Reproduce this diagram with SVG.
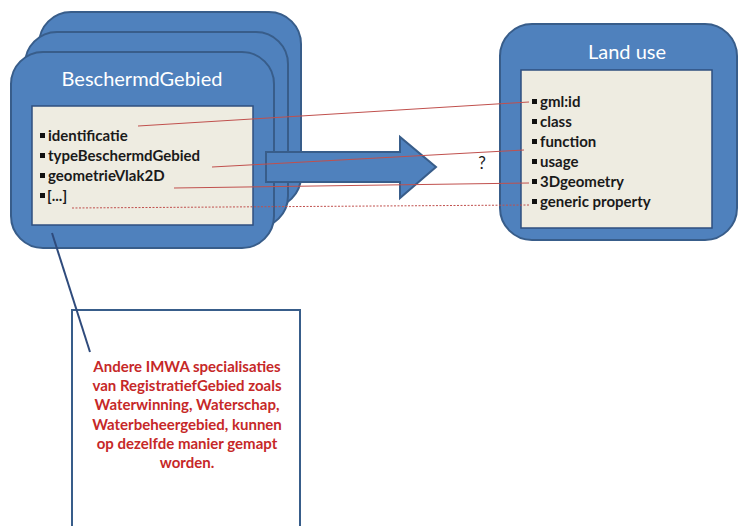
<svg xmlns="http://www.w3.org/2000/svg" width="741" height="526" viewBox="0 0 741 526">
<style>
.card{fill:#4F81BD;stroke:#385D8A;stroke-width:2}
.box{fill:#EEECE1;stroke:#2F4F7F;stroke-width:1.5}
.title{font-family:Lato,"Liberation Sans",sans-serif;font-size:20px;fill:#FFFFFF;text-anchor:middle}
.item{font-family:Lato,"Liberation Sans",sans-serif;font-size:15px;font-weight:bold;fill:#1A1A1A}
.bul{fill:#111111}
.red{stroke:#C0504D;stroke-width:1;fill:none}
.dot{stroke:#C0504D;stroke-width:1;stroke-dasharray:2 1.5;fill:none}
.note{font-family:Lato,"Liberation Sans",sans-serif;font-size:15px;font-weight:bold;fill:#C62828;text-anchor:middle}
</style>
<rect width="741" height="526" fill="#FFFFFF"/>
<g id="stack-back"><rect class="card" x="39" y="12" width="262" height="196" rx="32"/></g>
<g id="stack-middle"><rect class="card" x="25" y="32" width="263" height="196" rx="32"/></g>
<g id="beschermdgebied">
<rect class="card" x="11" y="52" width="263" height="196" rx="32"/>
<text class="title" x="142" y="86">BeschermdGebied</text>
<rect class="box" x="32" y="106" width="221" height="119"/>
<rect class="bul" x="40" y="133" width="5" height="5"/><text class="item" x="48" y="141">identificatie</text>
<rect class="bul" x="40" y="153" width="5" height="5"/><text class="item" x="48" y="161">typeBeschermdGebied</text>
<rect class="bul" x="40" y="173" width="5" height="5"/><text class="item" x="48" y="181">geometrieVlak2D</text>
<rect class="bul" x="40" y="193" width="5" height="5"/><text class="item" x="47" y="201">[...]</text>
</g>
<g id="landuse">
<rect class="card" x="500" y="24" width="237" height="216" rx="32"/>
<text class="title" x="627" y="59">Land use</text>
<rect class="box" x="521" y="70" width="191" height="158"/>
<rect class="bul" x="532" y="99" width="5" height="5"/><text class="item" x="540" y="107">gml:id</text>
<rect class="bul" x="532" y="119" width="5" height="5"/><text class="item" x="540" y="127">class</text>
<rect class="bul" x="532" y="139" width="5" height="5"/><text class="item" x="540" y="147">function</text>
<rect class="bul" x="532" y="159" width="5" height="5"/><text class="item" x="540" y="167">usage</text>
<rect class="bul" x="532" y="179" width="5" height="5"/><text class="item" x="540" y="187">3Dgeometry</text>
<rect class="bul" x="532" y="199" width="5" height="5"/><text class="item" x="540" y="207">generic property</text>
</g>
<g id="note">
<path d="M72 526 V310 H300 V526" fill="#FFFFFF" stroke="#385D8A" stroke-width="2"/>
<text class="note" x="187" y="372">Andere IMWA specialisaties</text>
<text class="note" x="187" y="391">van RegistratiefGebied zoals</text>
<text class="note" x="187" y="410">Waterwinning, Waterschap,</text>
<text class="note" x="187" y="430">Waterbeheergebied, kunnen</text>
<text class="note" x="187" y="449">op dezelfde manier gemapt</text>
<text class="note" x="187" y="468">worden.</text>
</g>
<g id="connectors">
<polygon points="266,152 400,152 400,137 436,167 400,198 400,182 266,182" fill="#4F81BD" stroke="#385D8A" stroke-width="2"/>
<line x1="52" y1="233" x2="90" y2="352" stroke="#2F4B7C" stroke-width="2"/>
<line class="red" x1="138" y1="126" x2="529" y2="102"/>
<line class="red" x1="212" y1="167" x2="524" y2="150"/>
<line class="red" x1="174" y1="188" x2="529" y2="183"/>
<line class="dot" x1="72" y1="208" x2="530" y2="205"/>
<text x="482" y="169" font-family="Lato,'Liberation Sans',sans-serif" font-size="17" fill="#1A1A1A" text-anchor="middle">?</text>
</g>
</svg>
